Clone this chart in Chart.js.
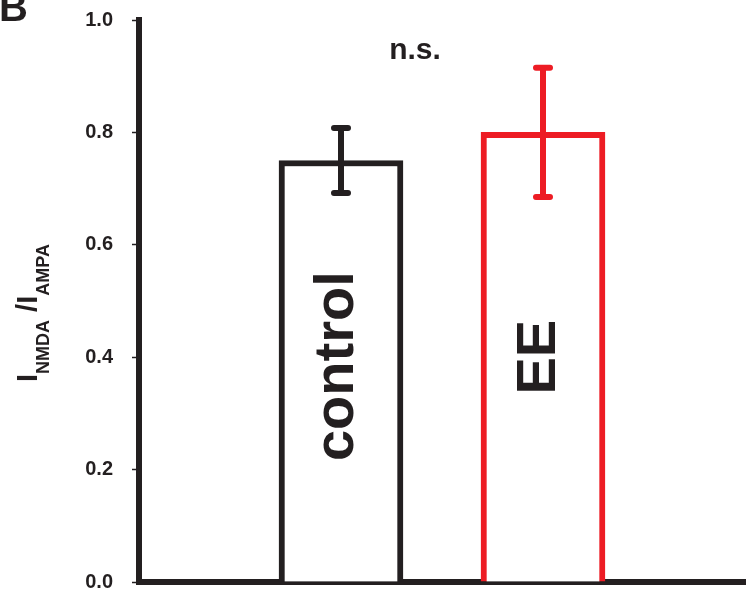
<!DOCTYPE html>
<html>
<head>
<meta charset="utf-8">
<script src="https://cdn.jsdelivr.net/npm/chart.js@4/dist/chart.umd.min.js"></script>
<style>
  html, body { margin: 0; padding: 0; background: #fff; }
  #wrap { width: 755px; height: 601px; }
</style>
</head>
<body>
<div id="wrap"><canvas id="chart"></canvas></div>
<script>
"use strict";

// ---------------- data ----------------
const groups = ["", "control", "EE", ""];
const ratioMeans = [null, 0.75, 0.80, null];
const ratioErrors = [null, 0.058, 0.115, null];
const yTicks = [0, 0.2, 0.4, 0.6, 0.8, 1.0];

const BLACK = "#231f20";
const RED = "#ed1c24";
const FONT = "'Liberation Sans', Arial, Helvetica, sans-serif";
const barColors = [BLACK, BLACK, RED, BLACK];
// where the rotated group name sits inside each bar (y value of its centre)
const nameCentres = [null, 0.384, 0.40, null];

// ---------------- error bars ----------------
const errorBars = {
  id: "errorBars",
  afterDatasetsDraw(chart) {
    const ctx = chart.ctx;
    const yScale = chart.scales.y;
    const meta = chart.getDatasetMeta(0);
    ctx.save();
    ctx.lineWidth = 6;
    ctx.lineCap = "round";
    meta.data.forEach((bar, i) => {
      if (ratioMeans[i] == null) return;
      const top = yScale.getPixelForValue(ratioMeans[i] + ratioErrors[i]);
      const bot = yScale.getPixelForValue(ratioMeans[i] - ratioErrors[i]);
      ctx.strokeStyle = barColors[i];
      ctx.beginPath();
      ctx.moveTo(bar.x, top);
      ctx.lineTo(bar.x, bot);
      ctx.moveTo(bar.x - 7, top);
      ctx.lineTo(bar.x + 7, top);
      ctx.moveTo(bar.x - 7, bot);
      ctx.lineTo(bar.x + 7, bot);
      ctx.stroke();
    });
    ctx.restore();
  }
};

// ---------------- texts (group names, n.s., panel letter, y title) ----------------
const labels = {
  id: "labels",
  afterDraw(chart) {
    const ctx = chart.ctx;
    const meta = chart.getDatasetMeta(0);
    const yScale = chart.scales.y;
    ctx.save();
    ctx.fillStyle = BLACK;

    // group names, rotated, inside the bars (black in both bars)
    meta.data.forEach((bar, i) => {
      if (!groups[i]) return;
      ctx.save();
      ctx.translate(bar.x + 12, yScale.getPixelForValue(nameCentres[i]));
      ctx.rotate(-Math.PI / 2);
      ctx.font = "bold 56px " + FONT;
      ctx.textAlign = "center";
      ctx.textBaseline = "alphabetic";
      ctx.fillText(groups[i], 0, 0);
      ctx.restore();
    });

    // n.s.
    ctx.font = "bold 30px " + FONT;
    ctx.textAlign = "center";
    ctx.textBaseline = "alphabetic";
    ctx.fillText("n.s.", 415, 59);

    // panel letter, cut off at the top
    ctx.font = "bold 40px " + FONT;
    ctx.textAlign = "left";
    ctx.fillText("B", -1, 21);

    // y title: I_NMDA /I_AMPA
    ctx.translate(37, 382);
    ctx.rotate(-Math.PI / 2);
    ctx.textAlign = "left";
    let x = 0;
    const part = (txt, size, dy) => {
      ctx.font = "bold " + size + "px " + FONT;
      ctx.fillText(txt, x, dy);
      x += ctx.measureText(txt).width;
    };
    part("I", 29, 0);
    part("NMDA", 18, 12);
    part(" /I", 29, 0);
    part("AMPA", 18, 12);
    ctx.restore();
  }
};

// ---------------- chart ----------------
new Chart(document.getElementById("chart"), {
  type: "bar",
  data: {
    labels: groups,
    datasets: [{
      data: ratioMeans,
      backgroundColor: "#ffffff",
      borderColor: barColors,
      borderWidth: 6,
      borderSkipped: "start",
      barThickness: 124
    }]
  },
  options: {
    responsive: true,
    maintainAspectRatio: false,
    animation: false,
    events: [],
    layout: { padding: { top: 20, right: 10, left: 0, bottom: 0 } },
    plugins: { legend: { display: false }, tooltip: { enabled: false } },
    scales: {
      x: {
        offset: false,
        grid: { display: false },
        ticks: { display: false },
        border: { display: true, color: BLACK, width: 6 },
        afterFit(scale) { scale.height = 19; }
      },
      y: {
        min: 0,
        max: 1.0,
        afterBuildTicks(scale) { scale.ticks = yTicks.map(v => ({ value: v })); },
        ticks: {
          padding: 19,
          color: BLACK,
          font: { family: FONT, size: 20, weight: "bold" },
          callback: v => v.toFixed(1)
        },
        grid: { drawOnChartArea: false, tickLength: 7, tickWidth: 1.5, tickColor: BLACK },
        border: { display: true, color: BLACK, width: 6 },
        afterFit(scale) {
          scale.width = 139;
          scale.paddingTop = 0;
          scale.paddingBottom = 0;
        }
      }
    }
  },
  plugins: [errorBars, labels]
});
</script>
</body>
</html>
